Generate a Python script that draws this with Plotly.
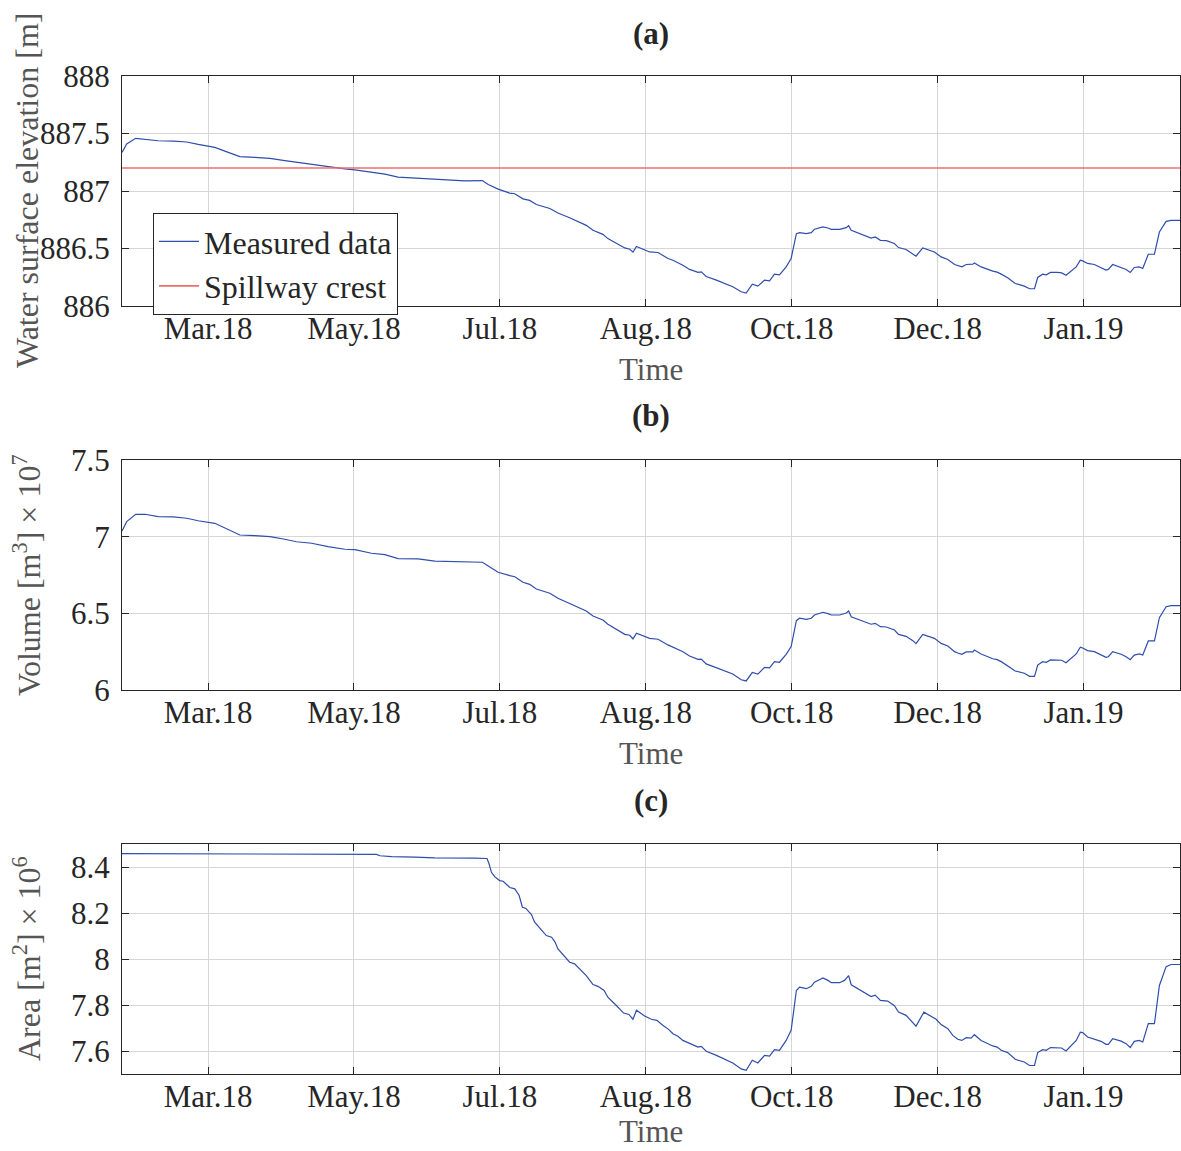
import plotly.graph_objects as go

# ---- reservoir record: day index since start of record ----
tick_days = [30, 80, 130, 180, 230, 280, 330]
tick_labels = ["Mar.18", "May.18", "Jul.18", "Aug.18", "Oct.18", "Dec.18", "Jan.19"]
x_range = [0.5, 363.2]

spillway_crest = 887.2

elev_days = [0.5, 2.1, 5.2, 8.4, 12.9, 18.1, 22.7, 26.6, 30.1, 32.3, 36.9, 40.9, 46.0, 51.2, 56.3,
             60.3, 65.5, 71.1, 76.9, 80.3, 86.0, 90.6, 95.1, 99.7, 107.7, 112.2, 118.0, 124.0, 126.0,
             129.4, 133.4, 135.1, 137.9, 140.2, 142.5, 147.1, 149.9, 153.9, 157.3, 159.6, 161.9, 165.3,
             167.0, 169.9, 172.8, 174.5, 175.6, 176.8, 179.0, 181.3, 184.2, 187.6, 189.3, 192.7, 195.0,
             197.9, 199.0, 200.7, 204.2, 208.1, 209.8, 212.7, 214.4, 216.5, 218.4, 220.7, 222.4, 224.1,
             225.8, 228.1, 229.8, 231.6, 232.7, 235.0, 236.7, 237.8, 240.7, 242.4, 243.6, 246.4, 248.7,
             249.5, 250.4, 257.2, 258.6, 260.4, 262.4, 265.2, 266.6, 269.2, 271.5, 272.6, 274.9, 278.9,
             281.2, 283.5, 285.8, 286.9, 288.3, 289.8, 292.1, 292.6, 294.9, 298.9, 300.4, 301.8, 304.0,
             306.6, 309.7, 311.5, 313.2, 314.3, 316.0, 317.2, 318.7, 321.2, 322.5, 324.0, 326.3, 327.5,
             328.9, 329.7, 331.4, 333.7, 337.7, 338.5, 340.0, 342.9, 344.6, 346.0, 347.4, 349.1, 350.3,
             352.2, 354.3, 356.0, 358.3, 360.0, 363.2]
elevation = [887.336, 887.409, 887.458, 887.452, 887.437, 887.434, 887.426, 887.405, 887.391, 887.379,
             887.336, 887.299, 887.293, 887.284, 887.264, 887.249, 887.235, 887.212, 887.192, 887.184,
             887.160, 887.146, 887.120, 887.114, 887.100, 887.097, 887.088, 887.091, 887.056, 887.016,
             886.981, 886.976, 886.932, 886.918, 886.883, 886.848, 886.808, 886.768, 886.725, 886.701,
             886.658, 886.623, 886.586, 886.548, 886.505, 886.494, 886.468, 886.517, 886.494, 886.470,
             886.465, 886.413, 886.398, 886.355, 886.318, 886.292, 886.297, 886.257, 886.225, 886.182,
             886.167, 886.124, 886.113, 886.190, 886.173, 886.225, 886.219, 886.277, 886.271, 886.340,
             886.413, 886.629, 886.638, 886.629, 886.638, 886.667, 886.687, 886.678, 886.667, 886.667,
             886.681, 886.699, 886.658, 886.591, 886.600, 886.571, 886.569, 886.543, 886.508, 886.491,
             886.456, 886.433, 886.505, 886.470, 886.427, 886.404, 886.361, 886.349, 886.340, 886.361,
             886.364, 886.375, 886.340, 886.303, 886.294, 886.277, 886.245, 886.196, 886.173, 886.150,
             886.150, 886.248, 886.277, 886.271, 886.292, 886.292, 886.288, 886.268, 886.318, 886.340,
             886.398, 886.392, 886.370, 886.361, 886.312, 886.318, 886.361, 886.335, 886.318, 886.292,
             886.335, 886.340, 886.326, 886.450, 886.450, 886.643, 886.736, 886.745, 886.745]

vol_days = [0.5, 2.1, 5.2, 8.4, 12.9, 18.1, 22.7, 26.6, 32.3, 36.9, 40.9, 46.0, 51.2, 56.3, 60.3, 65.5,
            71.1, 76.9, 80.3, 86.0, 90.6, 95.1, 102.0, 107.7, 118.0, 124.0, 126.0, 129.4, 133.4, 135.1,
            137.9, 140.2, 142.5, 147.1, 149.9, 153.9, 157.3, 159.6, 161.9, 165.3, 167.0, 169.9, 172.8,
            174.5, 175.6, 176.8, 181.3, 184.2, 187.6, 192.7, 195.0, 197.9, 199.0, 200.7, 204.2, 208.1,
            209.8, 212.7, 214.4, 216.5, 218.4, 220.7, 222.4, 224.1, 225.8, 228.1, 229.8, 231.6, 232.7,
            235.0, 236.7, 237.8, 240.7, 242.4, 243.6, 246.4, 248.7, 249.5, 250.4, 257.2, 258.6, 260.4,
            262.4, 265.2, 266.6, 269.2, 271.5, 272.6, 274.9, 278.9, 281.2, 283.5, 285.8, 286.9, 288.3,
            289.8, 292.1, 292.6, 294.9, 298.9, 300.4, 301.8, 304.0, 306.6, 309.7, 311.5, 313.2, 314.3,
            316.0, 317.2, 318.7, 321.2, 322.5, 324.0, 326.3, 327.5, 328.9, 329.7, 331.4, 333.7, 337.7,
            338.5, 340.0, 342.9, 344.6, 346.0, 347.4, 349.1, 350.3, 352.2, 354.3, 356.0, 358.3, 360.0,
            363.2]
volume_e7 = [7.037, 7.098, 7.146, 7.146, 7.131, 7.129, 7.120, 7.104, 7.087, 7.044, 7.011, 7.007, 7.000,
             6.983, 6.967, 6.957, 6.935, 6.918, 6.915, 6.892, 6.883, 6.857, 6.855, 6.841, 6.837, 6.833,
             6.809, 6.768, 6.746, 6.739, 6.703, 6.689, 6.659, 6.631, 6.598, 6.565, 6.533, 6.515, 6.483,
             6.457, 6.429, 6.398, 6.363, 6.357, 6.333, 6.370, 6.337, 6.331, 6.294, 6.250, 6.222, 6.200,
             6.202, 6.170, 6.145, 6.115, 6.104, 6.067, 6.059, 6.115, 6.104, 6.148, 6.145, 6.185, 6.181,
             6.233, 6.283, 6.452, 6.468, 6.461, 6.468, 6.489, 6.507, 6.498, 6.489, 6.489, 6.502, 6.515,
             6.478, 6.429, 6.435, 6.413, 6.411, 6.391, 6.363, 6.350, 6.322, 6.302, 6.363, 6.337, 6.304,
             6.287, 6.250, 6.241, 6.233, 6.248, 6.248, 6.261, 6.235, 6.204, 6.198, 6.185, 6.159, 6.124,
             6.109, 6.089, 6.089, 6.163, 6.185, 6.181, 6.196, 6.196, 6.194, 6.178, 6.217, 6.235, 6.279,
             6.274, 6.257, 6.250, 6.213, 6.217, 6.250, 6.233, 6.217, 6.198, 6.228, 6.235, 6.228, 6.320,
             6.320, 6.472, 6.543, 6.550, 6.550]

area_days = [0.5, 30.0, 87.7, 88.9, 92.9, 100.8, 107.7, 121.4, 125.6, 126.3, 127.1, 128.2, 129.9, 131.1,
             133.4, 135.1, 136.6, 137.7, 138.9, 140.8, 141.9, 144.2, 145.9, 147.7, 148.8, 149.9, 152.2,
             153.9, 155.6, 157.3, 159.6, 161.9, 163.6, 165.7, 167.0, 169.9, 172.4, 174.2, 175.6, 176.8,
             179.6, 181.9, 183.8, 185.9, 187.8, 189.3, 191.0, 192.7, 195.0, 197.9, 199.0, 200.7, 204.2,
             208.1, 209.8, 212.7, 214.4, 216.5, 218.4, 220.7, 222.4, 224.1, 225.8, 228.1, 229.8, 231.6,
             232.7, 235.0, 236.7, 237.8, 240.7, 242.4, 243.6, 246.4, 248.1, 249.5, 250.4, 257.2, 258.6,
             260.4, 262.9, 265.2, 266.6, 269.2, 271.5, 272.6, 275.3, 279.5, 281.2, 283.5, 285.2, 286.9,
             288.3, 289.8, 291.5, 292.6, 294.9, 298.9, 300.4, 301.8, 304.0, 306.6, 309.7, 311.5, 313.2,
             314.3, 316.0, 317.2, 318.7, 321.2, 322.5, 324.0, 326.3, 327.5, 328.9, 329.7, 331.4, 333.7,
             336.0, 337.7, 338.5, 340.0, 342.9, 344.6, 346.0, 347.4, 349.1, 350.3, 352.2, 354.3, 356.0,
             358.3, 360.0, 363.2]
area_e6 = [8.458, 8.456, 8.455, 8.449, 8.445, 8.443, 8.440, 8.439, 8.437, 8.413, 8.377, 8.358, 8.341,
           8.338, 8.311, 8.305, 8.276, 8.225, 8.220, 8.193, 8.160, 8.127, 8.102, 8.095, 8.076, 8.044,
           8.011, 7.986, 7.979, 7.957, 7.928, 7.889, 7.881, 7.863, 7.834, 7.798, 7.765, 7.759, 7.738,
           7.777, 7.752, 7.738, 7.733, 7.711, 7.694, 7.675, 7.664, 7.646, 7.632, 7.617, 7.620, 7.599,
           7.581, 7.557, 7.548, 7.522, 7.516, 7.560, 7.548, 7.581, 7.578, 7.606, 7.603, 7.646, 7.690,
           7.863, 7.878, 7.871, 7.881, 7.899, 7.918, 7.907, 7.897, 7.897, 7.907, 7.928, 7.888, 7.837,
           7.843, 7.820, 7.817, 7.797, 7.769, 7.755, 7.726, 7.708, 7.769, 7.738, 7.715, 7.697, 7.668,
           7.651, 7.646, 7.658, 7.656, 7.671, 7.646, 7.622, 7.617, 7.603, 7.593, 7.564, 7.552, 7.537,
           7.537, 7.593, 7.606, 7.603, 7.615, 7.615, 7.613, 7.600, 7.629, 7.646, 7.682, 7.680, 7.661,
           7.651, 7.642, 7.629, 7.629, 7.654, 7.643, 7.632, 7.615, 7.642, 7.646, 7.639, 7.719, 7.719,
           7.885, 7.967, 7.976, 7.976]

elev_ticks = [886, 886.5, 887, 887.5, 888]
vol_ticks = [6, 6.5, 7, 7.5]
area_ticks = [7.6, 7.8, 8, 8.2, 8.4]

# ---- styling ----
FONT = "Liberation Serif"
BLUE = "#2f4dab"
RED = "#f06c6c"
INK = "#262626"
LABEL_GREY = "#555555"
GRID = "#d6d6d6"

W, H = 1181, 1151
x_domain = [122 / W, 0.9995]
panels = [
    dict(top=76, bottom=306, title="<b>(a)</b>", title_y=33,
         ylabel="Water surface elevation [m]", yrange=[886, 888], yticks=elev_ticks),
    dict(top=460, bottom=690, title="<b>(b)</b>", title_y=416,
         ylabel="Volume [m<sup>3</sup>] × 10<sup>7</sup>", yrange=[6, 7.5], yticks=vol_ticks),
    dict(top=844, bottom=1074, title="<b>(c)</b>", title_y=800,
         ylabel="Area [m<sup>2</sup>] × 10<sup>6</sup>", yrange=[7.5, 8.5], yticks=area_ticks),
]

fig = go.Figure()
line_w = 1.2

fig.add_trace(go.Scatter(x=elev_days, y=elevation, mode="lines", name="Measured data",
                         line=dict(color=BLUE, width=line_w), xaxis="x", yaxis="y"))
fig.add_trace(go.Scatter(x=x_range, y=[spillway_crest, spillway_crest], mode="lines",
                         name="Spillway crest", line=dict(color=RED, width=1.6),
                         xaxis="x", yaxis="y"))
fig.add_trace(go.Scatter(x=vol_days, y=volume_e7, mode="lines", showlegend=False,
                         line=dict(color=BLUE, width=line_w), xaxis="x2", yaxis="y2"))
fig.add_trace(go.Scatter(x=area_days, y=area_e6, mode="lines", showlegend=False,
                         line=dict(color=BLUE, width=line_w), xaxis="x3", yaxis="y3"))

annotations = []
layout_axes = {}
x_mid = (x_domain[0] + x_domain[1]) / 2
for i, p in enumerate(panels):
    suffix = "" if i == 0 else str(i + 1)
    ydom = [1 - p["bottom"] / H, 1 - p["top"] / H]
    common = dict(ticks="inside", ticklen=7, tickcolor=INK, tickwidth=1,
                  mirror="allticks", showline=True, linecolor=INK, linewidth=1.3,
                  showgrid=True, gridcolor=GRID, gridwidth=1, zeroline=False,
                  automargin=False,
                  tickfont=dict(family=FONT, size=31, color=INK))
    layout_axes["xaxis" + suffix] = dict(
        common, domain=x_domain, range=x_range, anchor="y" + suffix,
        tickmode="array", tickvals=tick_days, ticktext=tick_labels,
        ticklabelstandoff=-5)
    layout_axes["yaxis" + suffix] = dict(
        common, domain=ydom, range=p["yrange"], anchor="x" + suffix,
        tickmode="array", tickvals=p["yticks"], ticktext=[f"{v:g}" for v in p["yticks"]],
        ticklabelstandoff=5)
    # panel title
    annotations.append(dict(text=p["title"], xref="paper", yref="paper",
                            x=x_mid, y=1 - p["title_y"] / H,
                            xanchor="center", yanchor="middle", showarrow=False,
                            font=dict(family=FONT, size=31, color=INK)))
    # x-axis label (kept inside the page at the bottom panel)
    time_y = 1 - (p["bottom"] + 63) / H
    time_anchor = "middle"
    if i == len(panels) - 1:
        time_y, time_anchor = 0.0, "bottom"
    annotations.append(dict(text="Time", xref="paper", yref="paper",
                            x=x_mid, y=time_y,
                            xanchor="center", yanchor=time_anchor, showarrow=False,
                            font=dict(family=FONT, size=31, color=LABEL_GREY)))
    # y-axis label
    annotations.append(dict(text=p["ylabel"], xref="paper", yref="paper",
                            x=27 / W, y=1 - (p["top"] + p["bottom"]) / 2 / H,
                            xanchor="center", yanchor="middle", textangle=-90,
                            showarrow=False,
                            font=dict(family=FONT, size=32, color=LABEL_GREY)))

fig.update_layout(
    width=W, height=H,
    margin=dict(l=0, r=0, t=0, b=0, autoexpand=False),
    paper_bgcolor="white", plot_bgcolor="white",
    font=dict(family=FONT, color=INK),
    legend=dict(x=153 / W, y=1 - 213 / H, xanchor="left", yanchor="top",
                bgcolor="white", bordercolor=INK, borderwidth=1,
                font=dict(family=FONT, size=32, color=INK),
                tracegroupgap=0, itemwidth=40),
    annotations=annotations,
    **layout_axes,
)

fig.write_html("out.html")
